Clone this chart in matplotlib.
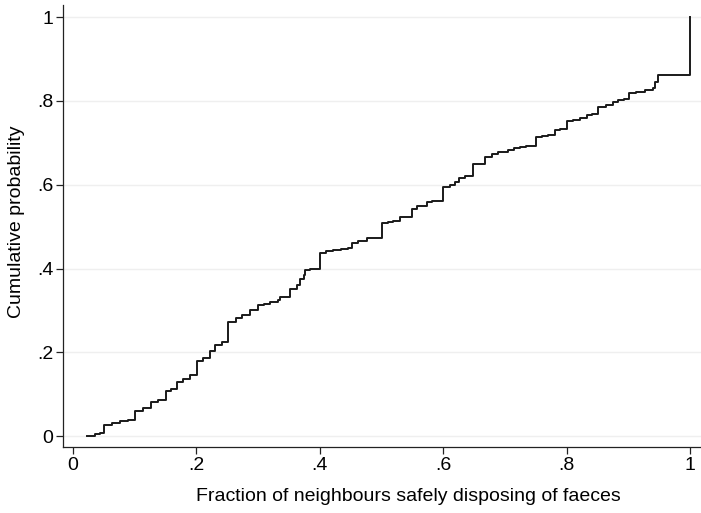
import matplotlib
matplotlib.use("Agg")
import matplotlib.pyplot as plt

plt.rcParams['font.family'] = ['Liberation Sans', 'DejaVu Sans']

# Step points of the empirical CDF (x value, cumulative probability after step)
frac_x = [0.0235, 0.0357, 0.0438, 0.0507, 0.0632, 0.0762, 0.0891, 0.1005, 0.1135, 0.1259,
          0.1378, 0.1507, 0.1588, 0.1681, 0.1788, 0.1896, 0.2005, 0.2107, 0.2220, 0.2301,
          0.2410, 0.2517, 0.2642, 0.2734, 0.2869, 0.3003, 0.3096, 0.3193, 0.3323, 0.3355,
          0.3452, 0.3517, 0.3626, 0.3679, 0.3744, 0.3760, 0.3841, 0.4003, 0.4100, 0.4219,
          0.4344, 0.4462, 0.4517, 0.4619, 0.4760, 0.5003, 0.5105, 0.5191, 0.5300, 0.5489,
          0.5570, 0.5733, 0.5819, 0.5992, 0.6110, 0.6191, 0.6261, 0.6353, 0.6488, 0.6596,
          0.6677, 0.6786, 0.6888, 0.7002, 0.7055, 0.7147, 0.7245, 0.7342, 0.7504, 0.7601,
          0.7703, 0.7812, 0.7893, 0.8002, 0.8104, 0.8217, 0.8326, 0.8412, 0.8509, 0.8639,
          0.8757, 0.8838, 0.8930, 0.9011, 0.9125, 0.9271, 0.9352, 0.9400, 0.9433, 0.9473,
          1.0]
cum_prob = [0.001, 0.005, 0.007, 0.026, 0.031, 0.036, 0.039, 0.061, 0.066, 0.082,
            0.086, 0.107, 0.112, 0.128, 0.136, 0.146, 0.180, 0.186, 0.203, 0.217,
            0.224, 0.273, 0.282, 0.289, 0.301, 0.313, 0.315, 0.320, 0.325, 0.331,
            0.333, 0.351, 0.360, 0.374, 0.384, 0.396, 0.400, 0.437, 0.442, 0.445,
            0.446, 0.449, 0.461, 0.465, 0.474, 0.509, 0.511, 0.514, 0.522, 0.541,
            0.549, 0.559, 0.562, 0.595, 0.599, 0.606, 0.615, 0.621, 0.649, 0.650,
            0.667, 0.673, 0.677, 0.679, 0.684, 0.687, 0.690, 0.692, 0.714, 0.717,
            0.718, 0.730, 0.734, 0.752, 0.755, 0.759, 0.766, 0.768, 0.786, 0.791,
            0.798, 0.802, 0.804, 0.819, 0.821, 0.825, 0.827, 0.832, 0.845, 0.861,
            1.0]

x_ticks = [0, 0.2, 0.4, 0.6, 0.8, 1.0]
x_tick_labels = ["0", ".2", ".4", ".6", ".8", "1"]
y_ticks = [0, 0.2, 0.4, 0.6, 0.8, 1.0]
y_tick_labels = ["0", ".2", ".4", ".6", ".8", "1"]

fig = plt.figure(figsize=(7.01, 5.13), dpi=100)
ax = fig.add_axes([63/701, 1 - 447/513, 1 - 63/701, (447 - 5)/513])

ax.step(frac_x, cum_prob, where='post', color='#1a1a1a', linewidth=1.4)

ax.set_xlim(-0.0162, 1.0178)
ax.set_ylim(-0.026, 1.029)
ax.set_xticks(x_ticks)
ax.set_xticklabels(x_tick_labels)
ax.set_yticks(y_ticks)
ax.set_yticklabels(y_tick_labels)
ax.yaxis.grid(True, color='#efefef', linewidth=1.0)
ax.set_axisbelow(True)
for s in ['top', 'right']:
    ax.spines[s].set_visible(False)
for s in ['left', 'bottom']:
    ax.spines[s].set_color('#222222')
    ax.spines[s].set_linewidth(0.9)
ax.tick_params(axis='both', direction='out', length=5, width=0.9, color='#222222',
               labelsize=14, pad=2)
ax.set_xlabel("Fraction of neighbours safely disposing of faeces", fontsize=14)
ax.xaxis.set_label_coords(0.541, -0.093)
ax.set_ylabel("Cumulative probability", fontsize=14)
ax.yaxis.set_label_coords(-0.06, 0.51)

fig.savefig("out.png", dpi=100)
